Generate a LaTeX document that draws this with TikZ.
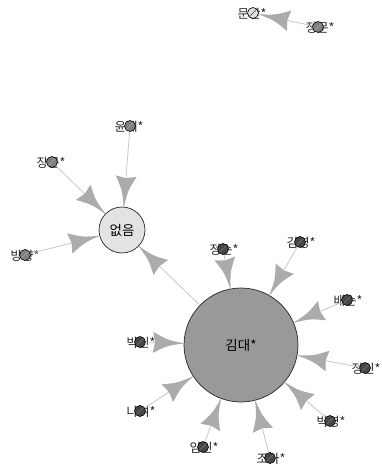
\documentclass[tikz,border=0pt]{standalone}
\usepackage{fontspec}
\newfontfamily\krfont{Noto Sans CJK KR}
\usetikzlibrary{calc}

% arrow from #1 to #2; #3 is the radius of the target circle
\newcommand{\linkto}[3]{%
  \draw[linkline] (#1) -- (#2);
  \fill[headfill] let \p1=($(#1)-(#2)$), \n1={atan2(\y1,\x1)},
      \p2=($(#2)+(\n1:#3)$) in
    (\p2) .. controls ($(\p2)+(\n1:17pt)+(\n1+90:3pt)$) .. ($(\p2)+(\n1:31pt)+(\n1+90:10.5pt)$)
    -- ($(\p2)+(\n1:29pt)$)
    -- ($(\p2)+(\n1:31pt)+(\n1-90:10.5pt)$)
    .. controls ($(\p2)+(\n1:17pt)+(\n1-90:3pt)$) .. cycle;
}

\begin{document}
\begin{tikzpicture}[x=1pt,y=-1pt,
  lbl/.style={font=\krfont\fontsize{12.5}{12.5}\selectfont, inner sep=0pt, text=black!85},
  dot/.style 2 args={circle, draw=black, line width=0.6pt, minimum size=11pt,
    inner sep=0pt, fill=#1,
    path picture={\draw[#2, line width=0.6pt]
      (path picture bounding box.south west) -- (path picture bounding box.north east);}},
  darkdot/.style={dot={black!72}{black!52}},
  middot/.style={dot={black!50}{black!35}},
  lightdot/.style={dot={black!12}{black!75}},
  hub/.style={circle, draw=black!85, line width=0.7pt, inner sep=0pt,
    font=\krfont\fontsize{13.5}{13.5}\selectfont},
  linkline/.style={draw=black!22, line width=0.8pt},
  headfill/.style={fill=black!33},
]
\useasboundingbox (0,0) rectangle (382,473);

% hubs
\node[hub, fill=black!11, minimum size=46pt] (none) at (122,230) {없음};
\node[hub, fill=black!40, minimum size=114pt] (kim) at (241,345) {김대*};

% labels of the small nodes
\node[lbl] (munanL)  at (252,14)  {문안*};
\node[lbl] (jmunL)   at (320,28)  {정문*};
\node[lbl] (yunL)    at (129,127) {윤예*};
\node[lbl] (jangL)   at (51,163)  {장문*};
\node[lbl] (bangL)   at (25,256)  {방향*};
\node[lbl] (jsunL)   at (224,250) {정순*};
\node[lbl] (kyeongL) at (301,243) {김영*};
\node[lbl] (baeL)    at (348,301) {배순*};
\node[lbl] (jinL)    at (366,369) {정인*};
\node[lbl] (byeongL) at (331,422) {박영*};
\node[lbl] (joaL)    at (271,459) {조아*};
\node[lbl] (iminL)   at (204,448) {임인*};
\node[lbl] (nayeoL)  at (141,412) {나여*};
\node[lbl] (bakinL)  at (141,343) {박인*};

% small nodes
\node[lightdot] (munan)  at (253,13)  {};
\node[middot]   (jmun)   at (318,27)  {};
\node[middot]   (yun)    at (130,126) {};
\node[middot]   (jang)   at (52,162)  {};
\node[middot]   (bang)   at (25,255)  {};
\node[darkdot]  (jsun)   at (223,249) {};
\node[darkdot]  (kyeong) at (300,242) {};
\node[darkdot]  (bae)    at (347,300) {};
\node[darkdot]  (jin)    at (365,368) {};
\node[darkdot]  (byeong) at (330,421) {};
\node[darkdot]  (joa)    at (270,458) {};
\node[darkdot]  (imin)   at (203,447) {};
\node[darkdot]  (nayeo)  at (140,411) {};
\node[darkdot]  (bakin)  at (140,342) {};

% links
\linkto{jmun}{munan}{6pt}
\linkto{yun}{none}{23pt}
\linkto{jang}{none}{23pt}
\linkto{bang}{none}{23pt}
\linkto{kim}{none}{23pt}
\linkto{jsun}{kim}{57pt}
\linkto{kyeong}{kim}{57pt}
\linkto{bae}{kim}{57pt}
\linkto{jin}{kim}{57pt}
\linkto{byeong}{kim}{57pt}
\linkto{joa}{kim}{57pt}
\linkto{imin}{kim}{57pt}
\linkto{nayeo}{kim}{57pt}
\linkto{bakin}{kim}{57pt}
\end{tikzpicture}
\end{document}
